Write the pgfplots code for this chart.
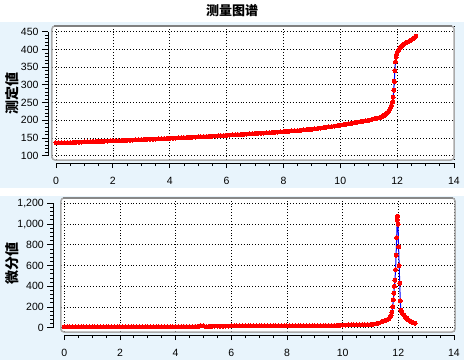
\documentclass[border=0pt]{standalone}
\usepackage{pgfplots}
\pgfplotsset{compat=1.18}
\usepackage{fontspec}
\setmainfont{Liberation Sans}
\newfontfamily\cjk{Noto Sans CJK SC}
\definecolor{bgblue}{RGB}{232,244,252}
\definecolor{framegray}{RGB}{170,170,170}
\definecolor{topgray}{RGB}{128,128,128}

\pgfplotstableread{
x y
0.0 136.0
0.1 136.2
0.2 136.4
0.3 136.6
0.4 136.8
0.5 137.0
0.6 137.4
0.7 137.8
0.8 138.2
0.9 138.6
1.0 139.0
1.1 139.3
1.2 139.6
1.3 139.9
1.4 140.2
1.5 140.5
1.6 140.8
1.7 141.1
1.8 141.4
1.9 141.7
2.0 142.0
2.1 142.3
2.2 142.6
2.3 142.9
2.4 143.2
2.5 143.5
2.6 143.9
2.7 144.3
2.8 144.7
2.9 145.1
3.0 145.5
3.1 145.8
3.2 146.1
3.3 146.4
3.4 146.7
3.5 147.0
3.6 147.4
3.7 147.8
3.8 148.2
3.9 148.6
4.0 149.0
4.1 149.4
4.2 149.8
4.3 150.2
4.4 150.6
4.5 151.0
4.6 151.4
4.7 151.8
4.8 152.2
4.9 152.6
5.0 153.0
5.1 153.4
5.2 153.8
5.3 154.2
5.4 154.6
5.5 155.0
5.6 155.5
5.7 156.0
5.8 156.5
5.9 157.0
6.0 157.5
6.1 158.0
6.2 158.5
6.3 159.0
6.4 159.5
6.5 160.0
6.6 160.5
6.7 161.0
6.8 161.5
6.9 162.0
7.0 162.5
7.1 163.0
7.2 163.5
7.3 164.0
7.4 164.5
7.5 165.0
7.6 165.6
7.7 166.2
7.8 166.8
7.9 167.4
8.0 168.0
8.1 168.6
8.2 169.2
8.3 169.8
8.4 170.4
8.5 171.0
8.6 171.8
8.7 172.6
8.8 173.4
8.9 174.2
9.0 175.0
9.1 176.0
9.2 177.0
9.3 178.0
9.4 179.0
9.5 180.0
9.6 181.2
9.7 182.4
9.8 183.6
9.9 184.8
10.0 186.0
10.1 187.4
10.2 188.8
10.3 190.2
10.4 191.6
10.5 193.0
10.6 194.4
10.7 195.8
10.8 197.2
10.9 198.6
11.0 200.0
11.1 202.0
11.2 204.0
11.3 206.0
11.4 208.0
11.5 211.0
11.55 214.0
11.6 217.0
11.65 221.0
11.7 226.0
11.75 233.0
11.8 242.0
11.84 252.0
11.86 265.0
11.88 285.0
11.9 310.0
11.92 340.0
11.94 365.0
11.96 378.0
11.98 386.0
12.0 391.0
12.04 396.0
12.08 402.0
12.12 407.0
12.16 410.0
12.2 413.0
12.25 416.0
12.3 418.0
12.35 420.0
12.4 422.0
12.45 424.5
12.5 427.0
12.55 430.0
12.6 433.0
12.65 437.0
}\measured

\pgfplotstableread{
x y
0.0 8
0.1 8
0.2 8
0.3 8
0.4 8
0.5 8
0.6 8
0.7 8
0.8 8
0.9 8
1.0 8
1.1 8
1.2 8
1.3 8
1.4 8
1.5 8
1.6 8
1.7 8
1.8 8
1.9 8
2.0 9
2.1 9
2.2 9
2.3 9
2.4 9
2.5 9
2.6 9
2.7 9
2.8 9
2.9 9
3.0 9
3.1 9
3.2 9
3.3 9
3.4 9
3.5 9
3.6 9
3.7 9
3.8 9
3.9 9
4.0 10
4.1 10
4.2 10
4.3 10
4.4 10
4.5 10
4.6 10
4.7 11
4.8 12
4.9 20
5.0 18
5.1 10
5.2 12
5.3 14
5.4 15
5.5 15
5.6 15
5.7 16
5.8 16
5.9 16
6.0 17
6.1 17
6.2 17
6.3 17
6.4 17
6.5 17
6.6 17
6.7 17
6.8 17
6.9 17
7.0 18
7.1 18
7.2 18
7.3 18
7.4 18
7.5 18
7.6 18
7.7 18
7.8 18
7.9 18
8.0 18
8.1 18
8.2 18
8.3 18
8.4 18
8.5 18
8.6 18
8.7 18
8.8 18
8.9 18
9.0 19
9.1 19
9.2 19
9.3 19
9.4 19
9.5 20
9.6 20
9.7 21
9.8 22
9.9 24
10.0 26
10.1 26
10.2 27
10.3 27
10.4 27
10.5 28
10.6 28
10.7 29
10.8 29
10.9 30
11.0 31
11.1 33
11.2 38
11.3 45
11.4 55
11.5 66
11.55 72
11.6 78
11.65 85
11.7 100
11.74 118
11.77 150
11.8 203
11.82 270
11.84 332
11.86 400
11.88 460
11.9 560
11.92 700
11.94 870
11.96 1040
11.97 1077
11.99 1000
12.01 780
12.03 600
12.05 430
12.07 260
12.09 170
12.12 150
12.15 135
12.2 120
12.25 105
12.3 90
12.35 78
12.4 70
12.45 60
12.5 52
12.55 46
12.6 42
}\derivative

\pgfplotsset{
  mainbox/.style={
    scale only axis, anchor=south west,
    axis background/.style={fill=white},
    axis line style={draw=framegray, line width=1.5pt, rounded corners=3pt},
    grid=major,
    major grid style={black, line width=0.7pt, dash pattern=on 0.9pt off 2pt},
    tick style={draw=none},
    xticklabels={}, yticklabels={},
  },
  dataplot/.style={
    blue, line width=1pt, mark=*, mark size=2pt,
    mark options={fill=red, draw=red, line width=0pt},
  },
  tickfont/.style={font=\fontsize{10.5}{12}\selectfont},
  sepx/.style={
    scale only axis, anchor=south west, height=10pt,
    axis x line*=bottom, axis y line=none,
    ymin=0, ymax=1, xmin=0, xmax=14,
    xtick={0,2,...,14}, minor x tick num=3,
    tick align=outside, major tick length=5pt, minor tick length=3pt,
    tick style={black, line width=0.8pt},
    axis line style={black, line width=0.9pt},
    xticklabel style={tickfont, yshift=-6pt},
    /pgf/number format/assume math mode=true,
  },
  sepy/.style={
    scale only axis, anchor=south west, width=10pt,
    axis y line*=left, axis x line=none,
    xmin=0, xmax=1,
    tick align=outside, major tick length=6pt, minor tick length=3pt,
    tick style={black, line width=0.8pt},
    axis line style={black, line width=0.9pt},
    yticklabel style={tickfont},
    scaled y ticks=false,
    /pgf/number format/assume math mode=true,
  },
}

\begin{document}
\begin{tikzpicture}[x=1pt,y=1pt]
\useasboundingbox (0,0) rectangle (464,360);
\fill[bgblue] (0,172) rectangle (464,338);
\fill[bgblue] (0,0) rectangle (464,164);
\node[font=\cjk\bfseries\fontsize{13}{15}\selectfont] at (232,349) {测量图谱};
\node[font=\cjk\bfseries\fontsize{14}{16}\selectfont, rotate=90] at (12,267) {测定値};
\node[font=\cjk\bfseries\fontsize{14}{16}\selectfont, rotate=90] at (12,97) {微分値};

% ---- top panel ----
\begin{axis}[mainbox, at={(52pt,200pt)}, width=402pt, height=134pt,
  xmin=-0.1407, xmax=14, ymin=87.86, ymax=466.1,
  xtick={0,2,...,14}, ytick={100,150,...,450}]
\addplot[dataplot] table {\measured};
\end{axis}
\draw[topgray, line width=2.5pt] (54,334) -- (452,334);

\begin{axis}[sepx, at={(56pt,197pt)}, width=398pt]
\end{axis}
\begin{axis}[sepy, at={(48pt,204.3pt)}, height=124pt,
  ymin=100, ymax=450, ytick={100,150,...,450}, minor y tick num=4]
\end{axis}

% ---- bottom panel ----
\begin{axis}[mainbox, at={(61pt,28pt)}, width=394pt, height=134pt,
  xmin=-0.1186, xmax=14.036, ymin=-41.5, ymax=1251.1,
  xtick={0,2,...,14}, ytick={0,200,...,1200}]
\addplot[dataplot] table {\derivative};
\end{axis}
\draw[framegray!80!black, line width=2pt] (63,162) -- (453,162);

\begin{axis}[sepx, at={(64.3pt,25pt)}, width=389.7pt]
\end{axis}
\begin{axis}[sepy, at={(53.3pt,32.3pt)}, height=124.4pt,
  ymin=0, ymax=1200, ytick={0,200,...,1200}, minor y tick num=4]
\end{axis}
\end{tikzpicture}
\end{document}
